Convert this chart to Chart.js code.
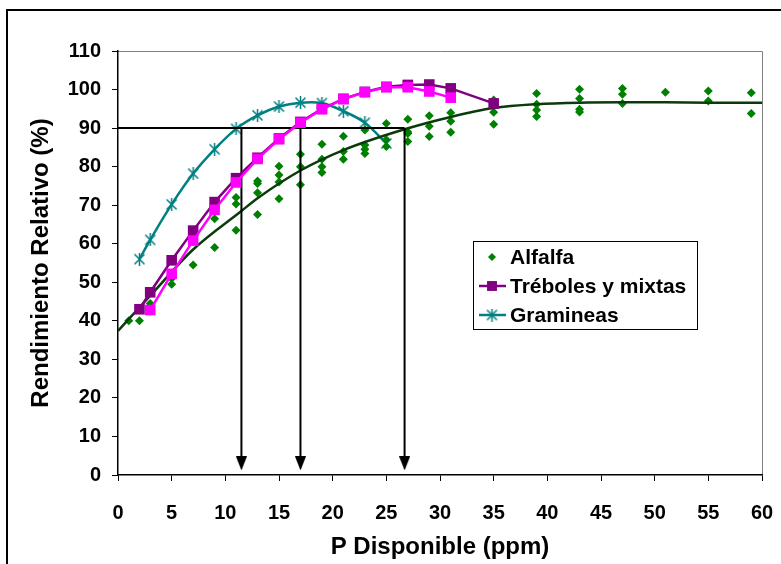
<!DOCTYPE html>
<html>
<head>
<meta charset="utf-8">
<script src="https://cdn.jsdelivr.net/npm/chart.js@4.4.1/dist/chart.umd.min.js"></script>
<style>
  html, body { margin: 0; padding: 0; background: #fff; }
  #wrap { position: relative; width: 781px; height: 564px; }
</style>
</head>
<body>
<div id="wrap"><canvas id="myChart" width="781" height="564"></canvas></div>
<script>
'use strict';

// Alfalfa: observed points
let alfalfaX = [1, 2, 3, 5, 5, 7, 9, 9, 11, 11, 11, 13, 13, 13, 13, 15, 15, 15, 15, 17, 17, 17,
  19, 19, 19, 19, 21, 21, 21, 23, 23, 23, 23, 25, 25, 25, 27, 27, 27, 27, 29, 29, 29,
  31, 31, 31, 35, 35, 35, 39, 39, 39, 39, 43, 43, 43, 43, 47, 47, 47, 51, 55, 55, 59, 59];
let alfalfaY = [40, 40, 44.5, 49.5, 51, 54.5, 59, 66.5, 63.5, 70.3, 72, 67.6, 73.2, 75.6, 76.3,
  71.7, 76, 77.8, 80.1, 75.3, 80, 83.2, 78.5, 80, 81.9, 85.8, 81.9, 83.9, 87.9,
  83.4, 84.5, 85.6, 89.5, 85.2, 87, 91.2, 86.5, 88.6, 89, 92.3, 87.8, 90.5, 93.2,
  88.9, 91.8, 94, 91, 94.1, 97.3, 93, 94.7, 96.2, 99, 94.2, 94.9, 97.7, 100.1,
  96.4, 98.8, 100.3, 99.3, 97, 99.6, 93.8, 99.2];

// Alfalfa: adjusted response curve
let fitX = [0, 3, 7, 11.5, 13, 17, 21, 26.7, 31, 35, 39, 43, 47, 51, 55, 60];
let fitY = [37.4, 46.5, 58.5, 68.5, 71.8, 79, 84.3, 89.7, 92.9, 95.2, 96.2, 96.6, 96.7, 96.7, 96.6, 96.6];

// Tréboles y mixtas
let trebolX = [2, 3, 5, 7, 9, 11, 13, 15, 17, 19, 21, 23, 25, 27, 29, 31, 35];
let trebolY = [43, 47.4, 55.7, 63.4, 70.8, 77, 82.3, 87.3, 91.6, 95, 97.6, 99.4, 100.7, 101.2, 101.3, 100.3, 96.4];
let mixtaX = [3, 5, 7, 9, 11, 13, 15, 17, 19, 21, 23, 25, 27, 29, 31];
let mixtaY = [42.8, 52.2, 60.8, 68.8, 75.9, 82, 87.1, 91.4, 94.9, 97.5, 99.3, 100.6, 100.6, 99.5, 97.9];

// Gramineas
let gramX = [2, 3, 5, 7, 9, 11, 13, 15, 17, 19, 21, 23, 25];
let gramY = [56, 61, 70.2, 78.2, 84.5, 89.8, 93.3, 95.6, 96.6, 96.5, 94.4, 91.4, 86];

// 90 % level and the critical P values
let level = 90;
let criticalP = [11.5, 17, 26.7];
let arrowTip = 3;

let xTicks = [0, 60, 5];
let yTicks = [0, 110, 10];

function pts(xs, ys) {
  return xs.map(function (x, i) { return { x: x, y: ys[i] }; });
}

let fontFamily = '"Liberation Sans", Arial, sans-serif';

// star marker: X plus vertical stroke
function makeStar(color) {
  let c = document.createElement('canvas');
  c.width = 13; c.height = 13;
  let g = c.getContext('2d');
  g.strokeStyle = color;
  g.lineWidth = 1.5;
  g.beginPath();
  g.moveTo(1.5, 1.5); g.lineTo(11.5, 11.5);
  g.moveTo(11.5, 1.5); g.lineTo(1.5, 11.5);
  g.moveTo(6.5, 0); g.lineTo(6.5, 13);
  g.stroke();
  return c;
}

function makeArrowHead() {
  let c = document.createElement('canvas');
  c.width = 11; c.height = 14;
  let g = c.getContext('2d');
  g.fillStyle = '#000';
  g.beginPath();
  g.moveTo(0, 0); g.lineTo(11, 0); g.lineTo(5.5, 14);
  g.closePath();
  g.fill();
  return c;
}

let star = makeStar('#008080');
let arrowHead = makeArrowHead();

let datasets = [
  {
    label: 'Tréboles y mixtas (2)',
    data: pts(mixtaX, mixtaY),
    showLine: true,
    borderColor: '#FF00FF',
    backgroundColor: '#FF00FF',
    borderWidth: 2.5,
    pointStyle: 'rect',
    pointRadius: 7.5,
    pointBorderWidth: 0,
    order: 0
  },
  {
    label: 'Tréboles y mixtas',
    data: pts(trebolX, trebolY),
    showLine: true,
    borderColor: '#800080',
    backgroundColor: '#800080',
    borderWidth: 2.5,
    pointStyle: 'rect',
    pointRadius: 7.5,
    pointBorderWidth: 0,
    order: 1
  },
  {
    label: 'Ajuste alfalfa',
    data: pts(fitX, fitY),
    showLine: true,
    borderColor: '#0b3a0b',
    borderWidth: 2.5,
    pointRadius: 0,
    cubicInterpolationMode: 'monotone',
    order: 3
  },
  {
    label: 'Alfalfa',
    data: pts(alfalfaX, alfalfaY),
    showLine: false,
    backgroundColor: '#008000',
    borderColor: '#008000',
    pointStyle: 'rectRot',
    pointRadius: 4.5,
    pointBorderWidth: 0,
    order: 4
  },
  {
    label: 'Gramineas',
    data: pts(gramX, gramY),
    showLine: true,
    borderColor: '#008080',
    borderWidth: 2.5,
    tension: 0.35,
    pointStyle: star,
    pointRadius: 6,
    order: 5
  },
  {
    label: 'Nivel 90',
    data: [{ x: xTicks[0], y: level }, { x: criticalP[criticalP.length - 1], y: level }],
    showLine: true,
    borderColor: '#000',
    borderWidth: 2,
    pointRadius: 0,
    order: 2
  }
];

criticalP.forEach(function (p) {
  datasets.push({
    label: 'P crítico ' + p,
    data: [{ x: p, y: level }, { x: p, y: arrowTip }],
    showLine: true,
    borderColor: '#000',
    borderWidth: 2,
    pointStyle: arrowHead,
    pointRadius: [0, 5],
    order: 2
  });
});

// outer frame and plot border
let framePlugin = {
  id: 'frame',
  beforeDraw: function (chart) {
    let ctx = chart.ctx;
    ctx.save();
    ctx.fillStyle = '#fff';
    ctx.fillRect(0, 0, chart.width, chart.height);
    ctx.strokeStyle = '#000';
    ctx.lineWidth = 2;
    ctx.beginPath();
    ctx.moveTo(7, chart.height);
    ctx.lineTo(7, 10);
    ctx.lineTo(chart.width, 10);
    ctx.stroke();
    let a = chart.chartArea;
    ctx.strokeStyle = '#808080';
    ctx.lineWidth = 1;
    ctx.beginPath();
    ctx.moveTo(a.left, a.top + 0.5);
    ctx.lineTo(a.right + 0.5, a.top + 0.5);
    ctx.lineTo(a.right + 0.5, a.bottom);
    ctx.stroke();
    ctx.restore();
  }
};

// boxed legend inside the plot
let legendPlugin = {
  id: 'legendBox',
  afterDraw: function (chart) {
    let ctx = chart.ctx;
    let box = { x: 473, y: 241, w: 224, h: 88 };
    ctx.save();
    ctx.fillStyle = '#fff';
    ctx.fillRect(box.x, box.y, box.w, box.h);
    ctx.strokeStyle = '#000';
    ctx.lineWidth = 1;
    ctx.strokeRect(box.x + 0.5, box.y + 0.5, box.w, box.h);

    let rows = [
      { text: 'Alfalfa', ds: datasets[3], line: false },
      { text: 'Tréboles y mixtas', ds: datasets[1], line: true },
      { text: 'Gramineas', ds: datasets[4], line: true }
    ];
    let y0 = 257;
    rows.forEach(function (r, i) {
      let y = y0 + i * 29;
      let cx = 492;
      if (r.line) {
        ctx.strokeStyle = r.ds.borderColor;
        ctx.lineWidth = 2.5;
        ctx.beginPath();
        ctx.moveTo(479, y);
        ctx.lineTo(506, y);
        ctx.stroke();
      }
      if (typeof r.ds.pointStyle === 'object') {
        ctx.drawImage(r.ds.pointStyle, cx - 6.5, y - 6.5);
      } else {
        ctx.fillStyle = r.ds.backgroundColor;
        ctx.strokeStyle = r.ds.backgroundColor;
        Chart.helpers.drawPoint(ctx, {
          pointStyle: r.ds.pointStyle,
          radius: r.line ? 7 : 4,
          borderWidth: 0,
          rotation: 0
        }, cx, y);
      }
      ctx.fillStyle = '#000';
      ctx.font = 'bold 21px ' + fontFamily;
      ctx.textAlign = 'left';
      ctx.textBaseline = 'middle';
      ctx.fillText(r.text, 510, y + 1);
    });
    ctx.restore();
  }
};

let ctx = document.getElementById('myChart').getContext('2d');
let myChart = new Chart(ctx, {
  type: 'scatter',
  data: { datasets: datasets },
  options: {
    responsive: false,
    animation: false,
    events: [],
    layout: { padding: { top: 51, right: 19, bottom: 0, left: 0 } },
    plugins: {
      legend: { display: false },
      tooltip: { enabled: false }
    },
    scales: {
      x: {
        type: 'linear',
        min: xTicks[0],
        max: xTicks[1],
        ticks: {
          stepSize: xTicks[2],
          color: '#000',
          padding: 20,
          maxRotation: 0,
          font: { family: fontFamily, size: 20, weight: 'bold' }
        },
        grid: { drawOnChartArea: false, drawTicks: true, tickLength: 6, color: '#000', lineWidth: 1 },
        border: { color: '#000', width: 1.5 },
        title: {
          display: true,
          text: 'P Disponible (ppm)',
          color: '#000',
          padding: { top: 0, bottom: 2 },
          font: { family: fontFamily, size: 24, weight: 'bold' }
        },
        afterFit: function (scale) {
          scale.height = 89;
          scale.paddingLeft = 10;
          scale.paddingRight = 12;
        }
      },
      y: {
        min: yTicks[0],
        max: yTicks[1],
        ticks: {
          stepSize: yTicks[2],
          color: '#000',
          padding: 11,
          font: { family: fontFamily, size: 20, weight: 'bold' }
        },
        grid: { drawOnChartArea: false, drawTicks: true, tickLength: 6, color: '#000', lineWidth: 1 },
        border: { color: '#000', width: 1.5 },
        title: {
          display: true,
          text: 'Rendimiento Relativo (%)',
          color: '#000',
          padding: { top: 27, bottom: 0 },
          font: { family: fontFamily, size: 24, weight: 'bold' }
        },
        afterFit: function (scale) { scale.width = 118; }
      }
    }
  },
  plugins: [framePlugin, legendPlugin]
});
</script>
</body>
</html>
